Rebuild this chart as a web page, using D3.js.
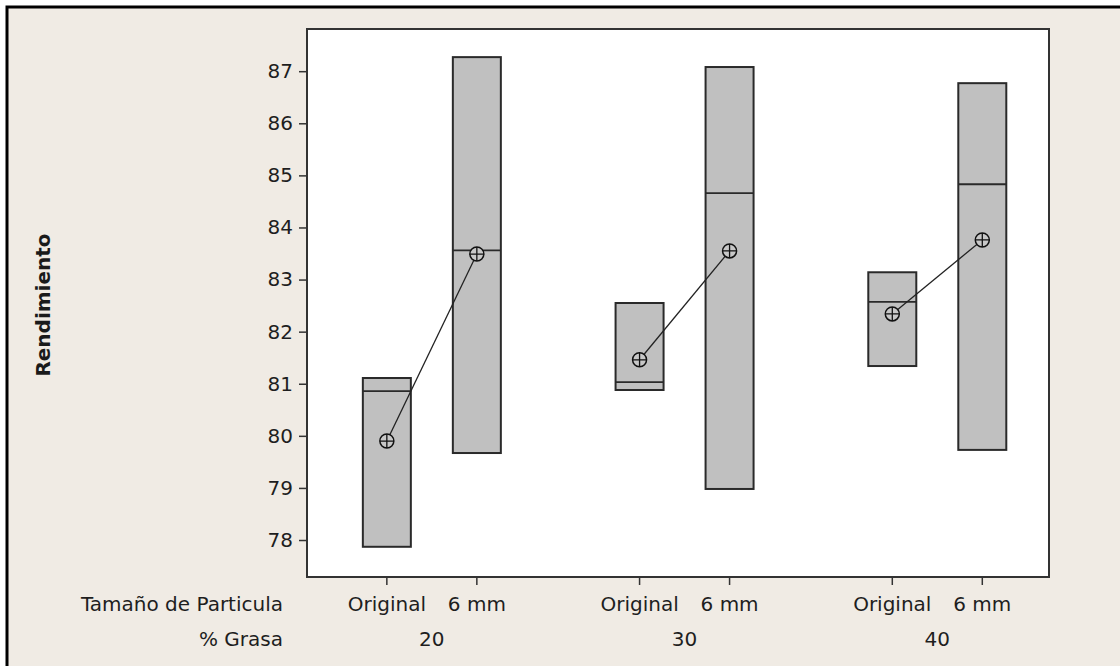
<!DOCTYPE html>
<html>
<head>
<meta charset="utf-8">
<script src="https://cdn.jsdelivr.net/npm/d3@7"></script>
<style>
  body { margin: 0; background: #fff; }
  svg { display: block; }
  .axis text { font-family: "DejaVu Sans", sans-serif; font-size: 20px; fill: #1e1e1e; }
  .axis path { display: none; }
  .axis line { stroke: #333; stroke-width: 1.5; }
  .lab { font-family: "DejaVu Sans", sans-serif; font-size: 20px; fill: #1e1e1e; }
</style>
</head>
<body>
<svg id="chart" width="1120" height="666"></svg>
<script>
// ----- Data ----------------------------------------------------------------
var GRASA = [20, 30, 40];
var TAMANO = ['Original', '6 mm'];
// order: 20 Original, 20 6 mm, 30 Original, 30 6 mm, 40 Original, 40 6 mm
var MAX_VALS = [81.11, 87.27, 82.55, 87.08, 83.14, 86.77];
var MEDIAN_VALS = [80.86, 83.56, 81.03, 84.66, 82.57, 84.83];
var MIN_VALS = [77.87, 79.67, 80.88, 78.98, 81.34, 79.73];
var MEAN_VALS = [79.90, 83.49, 81.46, 83.55, 82.34, 83.76];
var Y_TICKS = [78, 79, 80, 81, 82, 83, 84, 85, 86, 87];

var SVG = d3.select('#chart');

var margin = { top: 29, right: 71, bottom: 89, left: 307 };
var width = 1120 - margin.left - margin.right;
var height = 666 - margin.top - margin.bottom;

// ----- Background frame ----------------------------------------------------
SVG.append('rect')
    .attr('x', 7).attr('y', 7)
    .attr('width', 1130).attr('height', 680)
    .attr('fill', '#f0ebe4')
    .attr('stroke', '#000')
    .attr('stroke-width', 3);

var g = SVG.append('g')
    .attr('transform', 'translate(' + margin.left + ',' + margin.top + ')');

g.append('rect')
    .attr('width', width).attr('height', height)
    .attr('fill', '#fff');

// ----- Scales --------------------------------------------------------------
var x = d3.scaleLinear().domain([15.06, 44.42]).range([0, width]);
var xInner = d3.scalePoint().domain(TAMANO).range([-45, 45]);
var y = d3.scaleLinear().domain([77.29, 87.81]).range([height, 0]);

var data = [];
GRASA.forEach(function(gr, i) {
  TAMANO.forEach(function(t, j) {
    var k = i * TAMANO.length + j;
    data.push({ grasa: gr, tamano: t, max: MAX_VALS[k], median: MEDIAN_VALS[k],
                min: MIN_VALS[k], mean: MEAN_VALS[k] });
  });
});

function xPos(d) { return x(d.grasa) + xInner(d.tamano); }

// ----- Axes ----------------------------------------------------------------
g.append('g')
    .attr('class', 'axis')
    .call(d3.axisLeft(y).tickValues(Y_TICKS).tickSize(8).tickPadding(6));

var xAxis = g.append('g')
    .attr('class', 'axis')
    .attr('transform', 'translate(0,' + height + ')');

xAxis.selectAll('line.tick')
    .data(data)
  .enter().append('line')
    .attr('x1', xPos).attr('x2', xPos)
    .attr('y1', 0).attr('y2', 8);

xAxis.selectAll('text.tam')
    .data(data)
  .enter().append('text')
    .attr('x', xPos)
    .attr('y', 34)
    .attr('text-anchor', 'middle')
    .text(function(d) { return d.tamano; });

xAxis.selectAll('text.gr')
    .data(GRASA)
  .enter().append('text')
    .attr('x', function(d) { return x(d); })
    .attr('y', 69)
    .attr('text-anchor', 'middle')
    .text(function(d) { return d; });

SVG.append('text')
    .attr('class', 'lab')
    .attr('x', 283).attr('y', margin.top + height + 34)
    .attr('text-anchor', 'end')
    .text('Tamaño de Particula');

SVG.append('text')
    .attr('class', 'lab')
    .attr('x', 283).attr('y', margin.top + height + 69)
    .attr('text-anchor', 'end')
    .text('% Grasa');

SVG.append('text')
    .attr('transform', 'translate(50,' + 305 + ') rotate(-90)')
    .attr('text-anchor', 'middle')
    .style('font-family', '"DejaVu Sans", sans-serif')
    .style('font-size', '20px')
    .style('font-weight', 'bold')
    .style('fill', '#1a1a1a')
    .text('Rendimiento');

// ----- Boxes ---------------------------------------------------------------
var boxW = 48;

g.selectAll('.box')
    .data(data)
  .enter().append('rect')
    .attr('class', 'box')
    .attr('x', function(d) { return xPos(d) - boxW / 2; })
    .attr('y', function(d) { return y(d.max); })
    .attr('width', boxW)
    .attr('height', function(d) { return y(d.min) - y(d.max); })
    .attr('fill', '#c0c0c0')
    .attr('stroke', '#2a2a2a')
    .attr('stroke-width', 2);

g.selectAll('.median')
    .data(data)
  .enter().append('line')
    .attr('class', 'median')
    .attr('x1', function(d) { return xPos(d) - boxW / 2; })
    .attr('x2', function(d) { return xPos(d) + boxW / 2; })
    .attr('y1', function(d) { return y(d.median); })
    .attr('y2', function(d) { return y(d.median); })
    .attr('stroke', '#2a2a2a')
    .attr('stroke-width', 1.8);

// ----- Mean lines & symbols -----------------------------------------------
var line = d3.line()
    .x(xPos)
    .y(function(d) { return y(d.mean); });

GRASA.forEach(function(gr) {
  g.append('path')
      .datum(data.filter(function(d) { return d.grasa === gr; }))
      .attr('d', line)
      .attr('fill', 'none')
      .attr('stroke', '#222')
      .attr('stroke-width', 1.3);
});

var r = 7;
var means = g.selectAll('.mean')
    .data(data)
  .enter().append('g')
    .attr('class', 'mean')
    .attr('transform', function(d) { return 'translate(' + xPos(d) + ',' + y(d.mean) + ')'; });

means.append('circle')
    .attr('r', r)
    .attr('fill', '#c8c8c8')
    .attr('stroke', '#111')
    .attr('stroke-width', 1.5);

means.append('path')
    .attr('d', 'M' + (-r) + ',0H' + r + 'M0,' + (-r) + 'V' + r)
    .attr('stroke', '#111')
    .attr('stroke-width', 1.3);

// ----- Plot frame ----------------------------------------------------------
g.append('rect')
    .attr('width', width).attr('height', height)
    .attr('fill', 'none')
    .attr('stroke', '#333')
    .attr('stroke-width', 2);
</script>
</body>
</html>
